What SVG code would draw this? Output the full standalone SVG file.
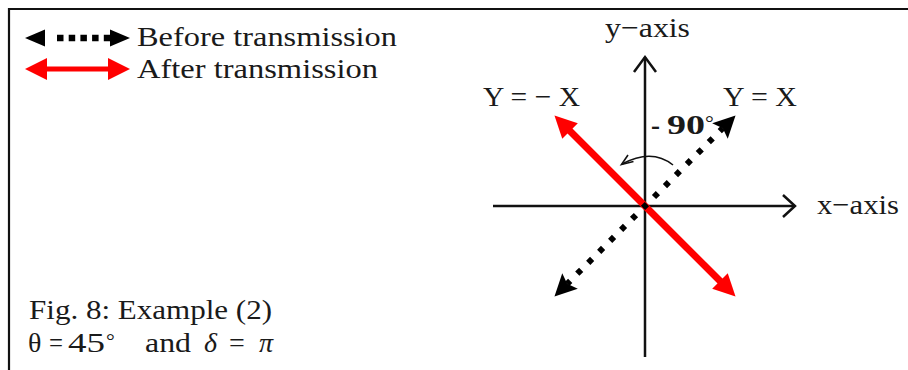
<svg xmlns="http://www.w3.org/2000/svg" width="908" height="370" viewBox="0 0 908 370">
<style>
  .t { font-family: "Liberation Serif", "DejaVu Serif", serif; font-size: 28px; fill: #1a1a1a; }
  .b { font-weight: bold; font-size: 27px; }
  .i { font-style: italic; }
  .deg { font-size: 22px; font-weight: normal; }
  .axis { stroke: #111; stroke-width: 2.5; fill: none; }
  .red { stroke: #ff0000; fill: none; }
  .dots { stroke: #000; fill: none; }
</style>
<defs>
  <marker id="hr" markerUnits="userSpaceOnUse" markerWidth="26" markerHeight="26" viewBox="0 -13 26 26" refX="4" refY="0" orient="auto-start-reverse">
    <path d="M0,-11 L22,0 L0,11 Z" fill="#ff0000"/>
  </marker>
  <marker id="hb" markerUnits="userSpaceOnUse" markerWidth="26" markerHeight="26" viewBox="0 -13 26 26" refX="4" refY="0" orient="auto-start-reverse">
    <path d="M0,-11 L22,0 L0,11 L4,0 Z" fill="#000"/>
  </marker>
  <marker id="hbs" markerUnits="userSpaceOnUse" markerWidth="24" markerHeight="20" viewBox="0 -10 24 20" refX="2" refY="0" orient="auto-start-reverse">
    <path d="M0,-8.5 L20,0 L0,8.5 Z" fill="#000"/>
  </marker>
</defs>

<path d="M9,372 V9 H910" fill="none" stroke="#111" stroke-width="2.2"/>

<g id="legend">
  <line x1="43" y1="38" x2="112" y2="38" class="dots" stroke-width="6.5" stroke-dasharray="0 14 6.5 5.2 6.5 5.2 6.5 5.2 6.5 5.2 6.5 20" marker-start="url(#hbs)" marker-end="url(#hbs)"/>
  <text class="t" x="137" y="46" textLength="260" lengthAdjust="spacingAndGlyphs">Before transmission</text>
  <line x1="43" y1="69" x2="112" y2="69" class="red" stroke-width="5" marker-start="url(#hr)" marker-end="url(#hr)"/>
  <text class="t" x="137" y="78" textLength="241" lengthAdjust="spacingAndGlyphs">After transmission</text>
</g>

<g id="axes">
  <line x1="645" y1="57" x2="645" y2="357" class="axis"/>
  <polyline points="634,72 645,57 656,72" class="axis"/>
  <line x1="493" y1="206" x2="795" y2="206" class="axis"/>
  <polyline points="783,195 795,206 783,217" class="axis"/>
  <text class="t" x="605" y="37" textLength="85" lengthAdjust="spacingAndGlyphs">y−axis</text>
  <text class="t" x="817" y="214" textLength="82" lengthAdjust="spacingAndGlyphs">x−axis</text>
</g>

<g id="connectors">
  <line id="after" x1="567.2" y1="128.2" x2="722.8" y2="283.8" class="red" stroke-width="7" marker-start="url(#hr)" marker-end="url(#hr)"/>
  <line id="before" x1="722.8" y1="128.2" x2="567.2" y2="283.8" class="dots" stroke-width="6" stroke-dasharray="5.5 10" stroke-dashoffset="1.2" marker-start="url(#hb)" marker-end="url(#hb)"/>
  <path id="rot" d="M673,165 Q652,148 622,164" fill="none" stroke="#111" stroke-width="1.6"/>
  <polyline points="628,155 621.5,164.5 633.5,161.5" fill="none" stroke="#111" stroke-width="1.6"/>
</g>

<g id="labels">
  <text class="t" x="483" y="106" textLength="97" lengthAdjust="spacingAndGlyphs">Y = − X</text>
  <text class="t" x="723" y="106" textLength="74" lengthAdjust="spacingAndGlyphs">Y = X</text>
  <text class="t b" x="651" y="134">-<tspan x="667" textLength="38" lengthAdjust="spacingAndGlyphs">90</tspan><tspan class="deg" x="705" dy="-4">°</tspan></text>
</g>

<g id="caption">
  <text class="t" x="29" y="319" textLength="243" lengthAdjust="spacingAndGlyphs">Fig. 8: Example (2)</text>
  <text class="t" y="352"><tspan x="28">θ</tspan><tspan x="49" textLength="14" lengthAdjust="spacingAndGlyphs">=</tspan><tspan x="68" textLength="37" lengthAdjust="spacingAndGlyphs">45</tspan><tspan class="deg" x="106" dy="-4">°</tspan><tspan x="145" dy="4" textLength="46" lengthAdjust="spacingAndGlyphs">and</tspan><tspan x="204" class="i">δ</tspan><tspan x="229">=</tspan><tspan x="259" class="i">π</tspan></text>
</g>
</svg>
